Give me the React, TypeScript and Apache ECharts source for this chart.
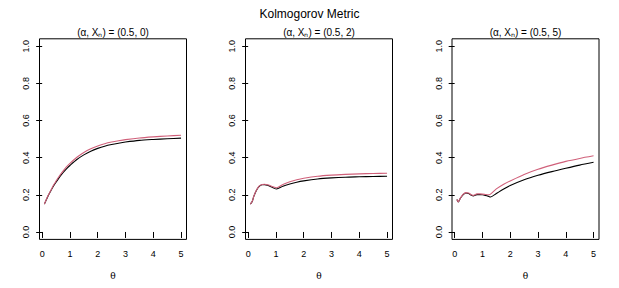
import React, { useEffect, useRef } from "react";
import * as echarts from "echarts";

const mainTitle = "Kolmogorov Metric";
const panelTitles = ["(α, Xₙ) = (0.5, 0)", "(α, Xₙ) = (0.5, 2)", "(α, Xₙ) = (0.5, 5)"];
const xTicks = [0, 1, 2, 3, 4, 5];
const yTicks = [0, 0.2, 0.4, 0.6, 0.8, 1.0];
const xName = "θ";

// Panel 1
const theta1 = [0.08, 0.2, 0.3, 0.4, 0.5, 0.6, 0.7, 0.8, 0.9, 1.0, 1.25, 1.5, 1.75, 2, 2.25, 2.5, 2.75, 3, 3.5, 4, 4.5, 5];
const black1 = [0.15, 0.19, 0.218, 0.245, 0.268, 0.29, 0.31, 0.328, 0.344, 0.358, 0.39, 0.415, 0.435, 0.45, 0.462, 0.471, 0.478, 0.484, 0.493, 0.498, 0.502, 0.505];
const red1 = [0.15, 0.192, 0.221, 0.25, 0.274, 0.297, 0.318, 0.337, 0.354, 0.369, 0.402, 0.428, 0.448, 0.463, 0.475, 0.484, 0.491, 0.497, 0.506, 0.512, 0.517, 0.521];

// Panel 2
const theta2 = [0.08, 0.15, 0.2, 0.3, 0.4, 0.5, 0.6, 0.7, 0.8, 0.9, 1.02, 1.25, 1.5, 1.75, 2, 2.5, 3, 3.5, 4, 4.5, 5];
const black2 = [0.15, 0.165, 0.19, 0.225, 0.246, 0.254, 0.255, 0.251, 0.245, 0.238, 0.231, 0.246, 0.258, 0.268, 0.275, 0.285, 0.291, 0.295, 0.297, 0.299, 0.3];
const red2 = [0.15, 0.166, 0.191, 0.226, 0.248, 0.256, 0.257, 0.254, 0.249, 0.243, 0.238, 0.256, 0.27, 0.281, 0.289, 0.3, 0.306, 0.31, 0.313, 0.315, 0.316];

// Panel 3
const theta3 = [0.08, 0.13, 0.2, 0.3, 0.4, 0.5, 0.6, 0.67, 0.8, 0.9, 1.0, 1.1, 1.2, 1.29, 1.5, 1.75, 2, 2.5, 3, 3.5, 4, 4.5, 5];
const black3 = [0.175, 0.162, 0.18, 0.2, 0.21, 0.207, 0.198, 0.194, 0.201, 0.201, 0.2, 0.197, 0.193, 0.188, 0.207, 0.23, 0.25, 0.281, 0.305, 0.325, 0.343, 0.36, 0.375];
const red3 = [0.175, 0.162, 0.181, 0.202, 0.212, 0.21, 0.201, 0.197, 0.205, 0.205, 0.204, 0.202, 0.2, 0.204, 0.232, 0.256, 0.275, 0.31, 0.338, 0.36, 0.38, 0.396, 0.41];

const thetas = [theta1, theta2, theta3];
const blacks = [black1, black2, black3];
const reds = [red1, red2, red3];

const FONT = "Liberation Sans, Arial, Helvetica, sans-serif";
const gridLefts = [39.5, 245.5, 452];
const gridWidth = 147;
const gridTop = 38.8;
const gridHeight = 200.6;

export default function App() {
  const ref = useRef<HTMLDivElement>(null);
  useEffect(() => {
    if (!ref.current) return;
    const chart = echarts.init(ref.current, null, { renderer: "svg" });
    const grids = gridLefts.map((l) => ({
      left: l,
      top: gridTop,
      width: gridWidth,
      height: gridHeight,
      show: true,
      borderColor: "#000",
      borderWidth: 1,
      backgroundColor: "transparent",
    }));
    const xAxes = gridLefts.map((_, i) => ({
      type: "value",
      gridIndex: i,
      min: -0.096,
      max: 5.196,
      axisLine: { show: false },
      splitLine: { show: false },
      axisTick: { show: true, customValues: xTicks, length: 6, lineStyle: { color: "#000" } },
      axisLabel: {
        customValues: xTicks,
        margin: 10,
        fontSize: 9,
        color: "#000",
        fontFamily: FONT,
        formatter: (v: number) => String(v),
      },
      name: xName,
      nameLocation: "middle",
      nameGap: 32,
      nameTextStyle: { fontSize: 9, color: "#000", fontFamily: "DejaVu Serif, serif" },
    }));
    const yAxes = gridLefts.map((_, i) => ({
      type: "value",
      gridIndex: i,
      min: -0.04,
      max: 1.04,
      axisLine: { show: false },
      splitLine: { show: false },
      axisTick: { show: true, customValues: yTicks, length: 6, lineStyle: { color: "#000" } },
      axisLabel: {
        customValues: yTicks,
        margin: 9,
        rotate: 90,
        fontSize: 9,
        color: "#000",
        fontFamily: FONT,
        formatter: (v: number) => v.toFixed(1),
      },
    }));
    const series: any[] = [];
    for (let i = 0; i < 3; i++) {
      series.push({
        type: "line",
        xAxisIndex: i,
        yAxisIndex: i,
        data: thetas[i].map((t, k) => [t, blacks[i][k]]),
        showSymbol: false,
        smooth: 0.25,
        lineStyle: { color: "#000", width: 1.1 },
      });
      series.push({
        type: "line",
        xAxisIndex: i,
        yAxisIndex: i,
        data: thetas[i].map((t, k) => [t, reds[i][k]]),
        showSymbol: false,
        smooth: 0.25,
        lineStyle: { color: "#D0607A", width: 1.1 },
      });
    }
    const graphic: any[] = [
      {
        type: "text",
        x: 309.5,
        y: 14,
        style: {
          text: mainTitle,
          fontSize: 12,
          fontFamily: FONT,
          fill: "#000",
          align: "center",
          verticalAlign: "middle",
        },
      },
      ...panelTitles.map((t, i) => ({
        type: "text",
        x: gridLefts[i] + gridWidth / 2,
        y: 32.5,
        style: {
          text: t,
          fontSize: 10,
          fontFamily: FONT,
          fill: "#000",
          align: "center",
          verticalAlign: "middle",
        },
      })),
    ];
    chart.setOption({
      animation: false,
      backgroundColor: "#fff",
      grid: grids,
      xAxis: xAxes,
      yAxis: yAxes,
      series,
      graphic,
    });
    return () => chart.dispose();
  }, []);
  return (
    <div
      ref={ref}
      style={{ position: "fixed", left: 0, top: 0, width: 619, height: 288 }}
    />
  );
}
